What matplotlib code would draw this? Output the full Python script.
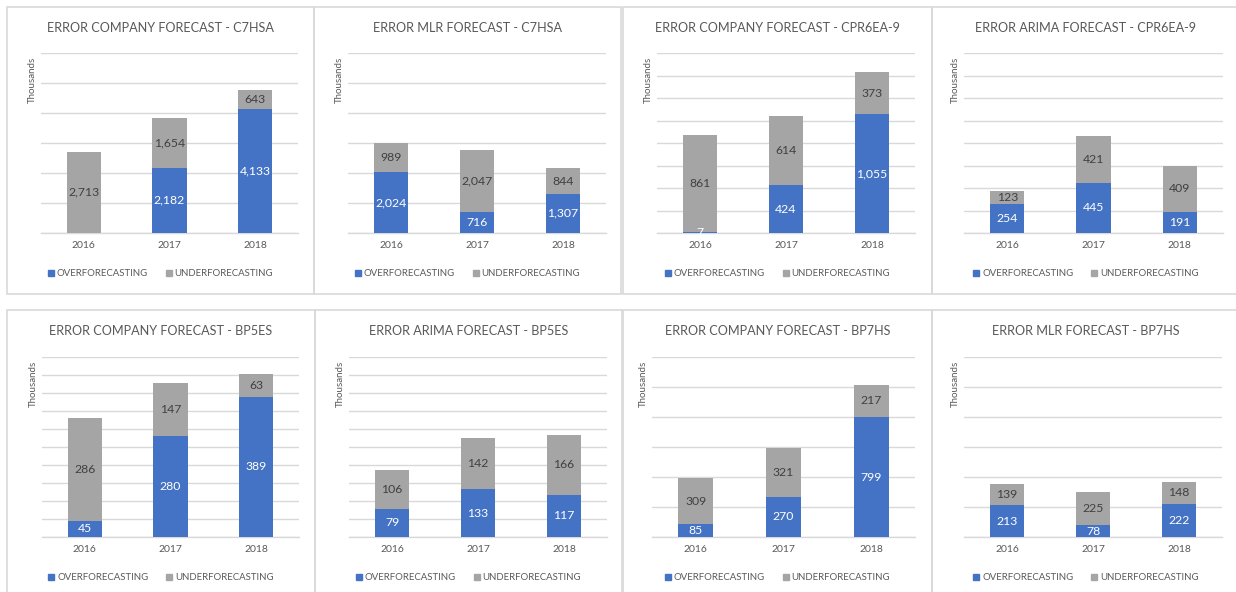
import matplotlib
matplotlib.use("Agg")
import matplotlib.pyplot as plt
from matplotlib.patches import Rectangle, Patch

plt.rcParams['font.family'] = ['Lato', 'DejaVu Sans']

W, H = 1236, 592

titles = ["ERROR COMPANY FORECAST - C7HSA", "ERROR MLR FORECAST - C7HSA",
          "ERROR COMPANY FORECAST - CPR6EA-9", "ERROR ARIMA FORECAST - CPR6EA-9",
          "ERROR COMPANY FORECAST - BP5ES", "ERROR ARIMA FORECAST - BP5ES",
          "ERROR COMPANY FORECAST - BP7HS", "ERROR MLR FORECAST - BP7HS"]
years = ["2016", "2017", "2018"]
over = [[0, 2182, 4133], [2024, 716, 1307], [7, 424, 1055], [254, 445, 191],
        [45, 280, 389], [79, 133, 117], [85, 270, 799], [213, 78, 222]]
under = [[2713, 1654, 643], [989, 2047, 844], [861, 614, 373], [123, 421, 409],
         [286, 147, 63], [106, 142, 166], [309, 321, 217], [139, 225, 148]]
ymax = [6000, 6000, 1600, 1600, 500, 500, 1200, 1200]
ystep = [1000, 1000, 200, 200, 50, 50, 200, 200]

# pixel layout for panel boxes and plot areas (x0, x1, y0, y1)
boxes = [(7, 314, 7, 294), (314, 621, 7, 294), (623, 932, 7, 294), (932, 1240, 7, 294),
         (7, 315, 310, 600), (315, 622, 310, 600), (623, 932, 310, 600), (932, 1240, 310, 600)]
plots = [(41, 298, 53, 233), (348, 606, 53, 233), (657, 915, 53, 233), (964, 1223, 53, 233),
         (42, 299, 357, 537), (349, 607, 357, 537), (652, 915, 357, 537), (964, 1222, 357, 537)]

BLUE = "#4472C4"
GRAY = "#A5A5A5"
TXT = "#595959"

fig = plt.figure(figsize=(W / 100, H / 100), dpi=100)

def fx(x):
    return x / W

def fy(y):
    return 1 - y / H

for i in range(8):
    bx0, bx1, by0, by1 = boxes[i]
    fig.patches.append(Rectangle((fx(bx0), fy(by1)), fx(bx1 - bx0), (by1 - by0) / H,
                                 transform=fig.transFigure, fill=False,
                                 edgecolor="#d9d9d9", linewidth=1.2))
    px0, px1, py0, py1 = plots[i]
    ax = fig.add_axes([fx(px0), fy(py1), fx(px1 - px0), (py1 - py0) / H])
    xs = range(3)
    ax.bar(xs, over[i], width=0.4, color=BLUE, zorder=3)
    ax.bar(xs, under[i], width=0.4, bottom=over[i], color=GRAY, zorder=3)
    for j in xs:
        if over[i][j] > 0:
            ax.text(j, over[i][j] / 2, f"{over[i][j]:,}", ha="center", va="center",
                    color="white", fontsize=8.8, zorder=4)
        ax.text(j, over[i][j] + under[i][j] / 2, f"{under[i][j]:,}", ha="center",
                va="center", color="#404040", fontsize=8.8, zorder=4)
    ax.set_xlim(-0.5, 2.5)
    ax.set_ylim(0, ymax[i])
    ax.set_yticks(range(0, ymax[i] + 1, ystep[i]))
    ax.set_yticklabels([])
    ax.tick_params(axis="y", length=0)
    ax.tick_params(axis="x", length=0, labelsize=7.5, labelcolor=TXT, pad=6)
    ax.set_xticks(list(xs))
    ax.set_xticklabels(years)
    ax.grid(axis="y", color="#d9d9d9", linewidth=1, zorder=0)
    for s in ["top", "left", "right"]:
        ax.spines[s].set_visible(False)
    ax.spines["bottom"].set_color("#d9d9d9")
    ax.spines["bottom"].set_linewidth(1)
    ax.set_facecolor("none")

    # title, display unit label, legend
    fig.text(fx((bx0 + bx1) / 2), fy(by0 + 21), titles[i], ha="center", va="center",
             fontsize=9.1, color=TXT)
    fig.text(fx(px0 - 9), fy(py0 + 4), "Thousands", rotation=90, ha="center", va="top",
             fontsize=7, color=TXT)
    handles = [Patch(color=BLUE, label="OVERFORECASTING"),
               Patch(color=GRAY, label="UNDERFORECASTING")]
    fig.legend(handles=handles, loc="center", ncol=2, frameon=False,
               bbox_to_anchor=(fx((bx0 + bx1) / 2), fy(py1 + 41)),
               fontsize=6.9, labelcolor=TXT, handlelength=0.6, handleheight=0.6,
               handletextpad=0.3, columnspacing=1.9)

fig.savefig("out.png", dpi=100)
